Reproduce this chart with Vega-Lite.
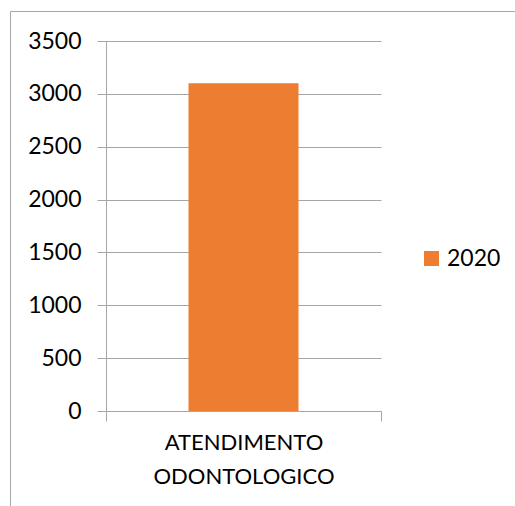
{
  "$schema": "https://vega.github.io/schema/vega-lite/v6.json",
  "autosize": "none",
  "padding": {"left": 10, "top": 11, "right": 0, "bottom": 0},
  "width": 510,
  "height": 500,
  "background": "white",
  "config": {
    "view": {"stroke": "#a6a6a6", "strokeWidth": 1},
    "font": "Lato",
    "axis": {"labelFont": "Lato", "labelColor": "#000000", "domainColor": "#a6a6a6", "tickColor": "#a6a6a6", "gridColor": "#a6a6a6", "domainWidth": 1, "tickWidth": 1, "gridWidth": 1}
  },
  "data": {"values": [
    {"categoria": "ATENDIMENTO ODONTOLOGICO", "ano": "2020", "valor": 3100}
  ]},
  "mark": {"type": "bar", "width": {"band": 0.4}},
  "encoding": {
    "x": {
      "field": "categoria", "type": "nominal",
      "scale": {"range": [96, 371], "paddingInner": 0, "paddingOuter": 0},
      "axis": {"title": null, "labelAngle": 0, "offset": -100, "tickSize": 10, "tickBand": "extent", "labelFontSize": 22, "labelPadding": 11, "labelLineHeight": 34, "labelLimit": 0, "labelExpr": "split(datum.label, ' ')", "grid": false}
    },
    "y": {
      "field": "valor", "type": "quantitative",
      "scale": {"domain": [0, 3500], "nice": false, "range": [400, 30]},
      "axis": {"title": null, "values": [0, 500, 1000, 1500, 2000, 2500, 3000, 3500], "format": "d", "offset": -96, "tickSize": 9, "labelPadding": 16, "labelFontSize": 23, "grid": true}
    },
    "color": {
      "field": "ano", "type": "nominal",
      "scale": {"range": ["#ED7D31"]},
      "legend": {"title": null, "orient": "none", "legendX": 410, "legendY": 236, "symbolType": "square", "symbolSize": 225, "symbolStrokeWidth": 0, "labelFontSize": 23, "labelFont": "Lato", "labelColor": "#000000", "labelOffset": 4}
    }
  }
}
